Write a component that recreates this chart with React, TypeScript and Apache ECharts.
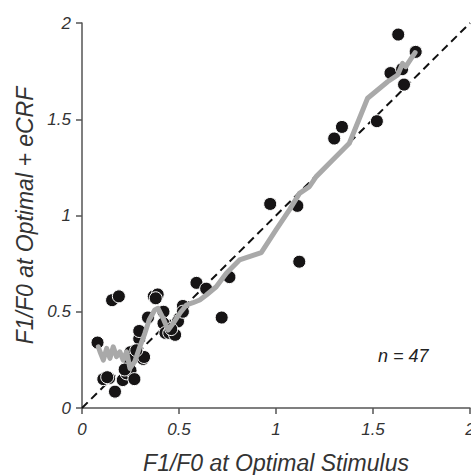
import React, { useEffect, useRef } from "react";
import * as echarts from "echarts";

const scatterX = [
  0.08, 0.11, 0.14, 0.17, 0.155, 0.19, 0.21, 0.23, 0.25, 0.27, 0.25, 0.245,
  0.295, 0.295, 0.315, 0.32, 0.34, 0.37, 0.39, 0.42, 0.42, 0.43, 0.45, 0.48,
  0.495, 0.52, 0.59, 0.64, 0.72, 0.76, 0.97, 1.11, 1.12, 1.3, 1.34, 1.52,
  1.59, 1.65, 1.66, 1.63, 1.72, 0.22, 0.28, 0.13, 0.38, 0.46, 0.52,
];
const scatterY = [
  0.34, 0.15, 0.155, 0.085, 0.56, 0.58, 0.145, 0.18, 0.195, 0.15, 0.29, 0.25,
  0.36, 0.4, 0.255, 0.265, 0.47, 0.58, 0.59, 0.5, 0.44, 0.39, 0.39, 0.38,
  0.45, 0.53, 0.65, 0.62, 0.47, 0.68, 1.06, 1.05, 0.76, 1.4, 1.46, 1.49,
  1.74, 1.76, 1.68, 1.94, 1.85, 0.2, 0.3, 0.16, 0.57, 0.41, 0.5,
];

const trendX = [
  0.084, 0.093, 0.11, 0.127, 0.144, 0.161, 0.178, 0.195, 0.212, 0.23, 0.247,
  0.272, 0.298, 0.324, 0.346, 0.375, 0.392, 0.418, 0.444, 0.47, 0.504, 0.538,
  0.572, 0.607, 0.641, 0.692, 0.744, 0.812, 0.924, 1.0, 1.069, 1.121, 1.172,
  1.207, 1.292, 1.378, 1.472, 1.575, 1.627, 1.652, 1.669, 1.703, 1.717,
];
const trendY = [
  0.318, 0.292, 0.249, 0.31, 0.258, 0.318, 0.267, 0.292, 0.249, 0.292, 0.206,
  0.241, 0.318, 0.388, 0.457, 0.509, 0.518, 0.466, 0.405, 0.44, 0.492, 0.535,
  0.547, 0.561, 0.587, 0.63, 0.7, 0.769, 0.807, 0.925, 1.029, 1.115, 1.15,
  1.202, 1.288, 1.375, 1.609, 1.695, 1.73, 1.79, 1.773, 1.825, 1.846,
];

const unityLine = [
  [0, 0],
  [2, 2],
];
const tickValues = [0, 0.5, 1, 1.5, 2];
const xTitle = "F1/F0 at Optimal Stimulus";
const yTitle = "F1/F0 at Optimal + eCRF";
const countNote = "n = 47";

const FONT = "'Liberation Sans', Arial, sans-serif";

export default function App() {
  const ref = useRef<HTMLDivElement>(null);
  useEffect(() => {
    if (!ref.current) return;
    document.body.style.margin = "0";
    document.body.style.overflow = "hidden";
    const chart = echarts.init(ref.current, null, { renderer: "svg" });
    const fmt = (v: number) => (tickValues.includes(v) ? String(v) : "");
    const axisCommon = {
      type: "value" as const,
      min: 0,
      max: 2,
      interval: 0.5,
      splitLine: { show: false },
      axisLine: { show: true, lineStyle: { color: "#555", width: 1.5 } },
      axisTick: { show: true, length: 6, lineStyle: { color: "#555", width: 1.5 } },
      nameLocation: "middle" as const,
      nameTextStyle: {
        fontFamily: FONT,
        fontStyle: "italic",
        fontSize: 23,
        color: "#333",
      },
    };
    const tickLabel = {
      formatter: fmt,
      fontFamily: FONT,
      fontStyle: "italic",
      fontSize: 17,
      color: "#333",
    };
    chart.setOption({
      animation: false,
      backgroundColor: "#fff",
      grid: {
        left: 82,
        top: 23,
        width: 388,
        height: 385,
        containLabel: false,
        outerBoundsMode: "none",
      },
      xAxis: {
        ...axisCommon,
        name: xTitle,
        nameGap: 43,
        axisLabel: { ...tickLabel, margin: 13 },
      },
      yAxis: {
        ...axisCommon,
        name: yTitle,
        nameGap: 38,
        axisLabel: { ...tickLabel, margin: 11 },
      },
      graphic: [
        {
          type: "text",
          left: 378,
          top: 347,
          style: {
            text: countNote,
            font: `italic 18px ${FONT}`,
            fill: "#222",
          },
        },
      ],
      series: [
        {
          type: "line",
          data: unityLine,
          symbol: "none",
          lineStyle: { color: "#111", width: 2, type: [8, 5] },
          z: 1,
        },
        {
          type: "scatter",
          data: scatterX.map((x, i) => [x, scatterY[i]]),
          symbolSize: 13,
          itemStyle: { color: "#161415", opacity: 1, borderColor: "#fff", borderWidth: 1 },
          z: 2,
        },
        {
          type: "line",
          data: trendX.map((x, i) => [x, trendY[i]]),
          symbol: "none",
          lineStyle: { color: "#a9a9a9", width: 5, join: "round", cap: "round" },
          z: 3,
        },
      ],
    });
    return () => chart.dispose();
  }, []);
  return (
    <div
      ref={ref}
      style={{ position: "absolute", left: 0, top: 0, width: 471, height: 475 }}
    />
  );
}
